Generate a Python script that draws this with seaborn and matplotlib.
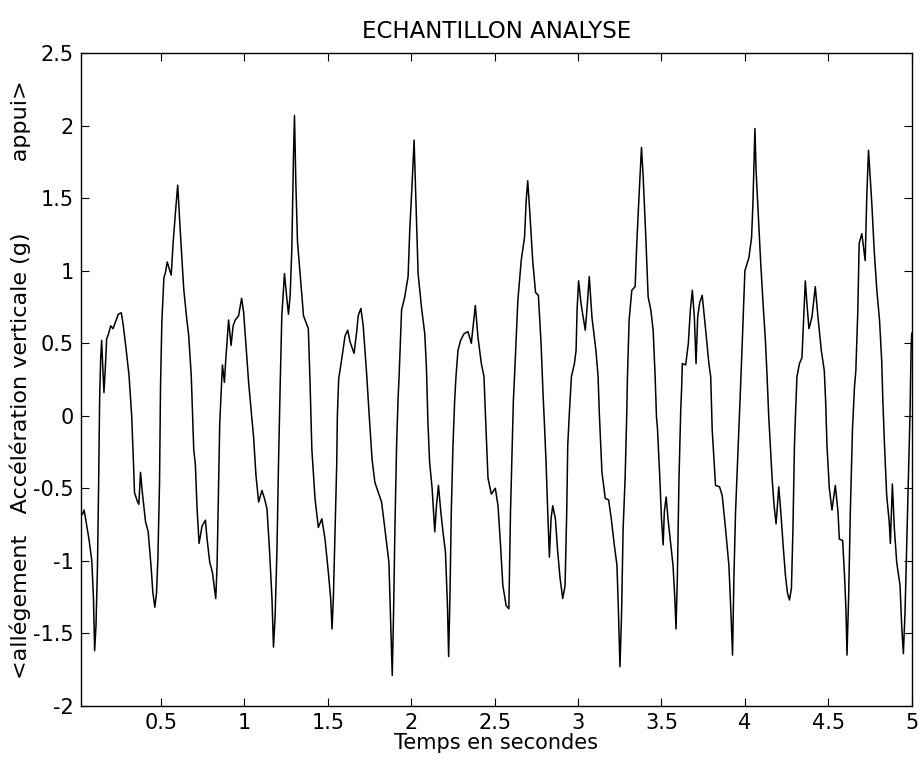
import numpy as np
import pandas as pd
import matplotlib
matplotlib.use('Agg')
import matplotlib.pyplot as plt
import seaborn as sns

# Valeurs (temps en s, acceleration en g)
temps = [
    0.029, 0.039, 0.068, 0.085, 0.095, 0.102, 0.110, 0.119, 0.126, 0.132,
    0.138, 0.144, 0.152, 0.158, 0.166, 0.174, 0.184, 0.198, 0.212, 0.228,
    0.244, 0.262, 0.274, 0.288, 0.308, 0.324, 0.334, 0.341, 0.358, 0.367,
    0.377, 0.388, 0.407, 0.423, 0.441, 0.451, 0.463, 0.473, 0.481, 0.491,
    0.497, 0.505, 0.517, 0.527, 0.537, 0.561, 0.573, 0.587, 0.600, 0.617,
    0.636, 0.652, 0.666, 0.681, 0.696, 0.706, 0.716, 0.728, 0.746, 0.766,
    0.776, 0.792, 0.808, 0.828, 0.836, 0.845, 0.852, 0.860, 0.868, 0.880,
    0.887, 0.896, 0.905, 0.920, 0.932, 0.945, 0.965, 0.983, 0.995, 1.011,
    1.025, 1.039, 1.055, 1.069, 1.085, 1.105, 1.120, 1.135, 1.150, 1.165,
    1.174, 1.184, 1.195, 1.204, 1.214, 1.224, 1.240, 1.254, 1.264, 1.274,
    1.284, 1.294, 1.300, 1.308, 1.318, 1.334, 1.354, 1.383, 1.394, 1.404,
    1.423, 1.443, 1.464, 1.483, 1.503, 1.517, 1.525, 1.533, 1.543, 1.553,
    1.557, 1.565, 1.583, 1.603, 1.619, 1.633, 1.657, 1.673, 1.682, 1.698,
    1.712, 1.733, 1.748, 1.765, 1.782, 1.822, 1.842, 1.866, 1.876, 1.886,
    1.894, 1.902, 1.912, 1.921, 1.927, 1.942, 1.961, 1.981, 1.991, 2.005,
    2.017, 2.025, 2.041, 2.061, 2.081, 2.091, 2.100, 2.110, 2.125, 2.141,
    2.151, 2.163, 2.177, 2.190, 2.205, 2.217, 2.224, 2.232, 2.240, 2.250,
    2.260, 2.268, 2.280, 2.296, 2.316, 2.340, 2.360, 2.372, 2.384, 2.400,
    2.420, 2.436, 2.444, 2.460, 2.480, 2.504, 2.520, 2.535, 2.549, 2.569,
    2.585, 2.595, 2.605, 2.612, 2.619, 2.639, 2.659, 2.679, 2.689, 2.698,
    2.710, 2.728, 2.745, 2.762, 2.778, 2.790, 2.798, 2.808, 2.818, 2.828,
    2.838, 2.848, 2.864, 2.878, 2.892, 2.908, 2.922, 2.932, 2.938, 2.948,
    2.960, 2.978, 2.988, 2.994, 3.003, 3.018, 3.043, 3.053, 3.067, 3.083,
    3.107, 3.120, 3.127, 3.143, 3.163, 3.183, 3.199, 3.217, 3.233, 3.242,
    3.251, 3.260, 3.270, 3.282, 3.292, 3.296, 3.306, 3.322, 3.342, 3.352,
    3.366, 3.380, 3.390, 3.406, 3.420, 3.436, 3.450, 3.462, 3.470, 3.476,
    3.490, 3.500, 3.510, 3.517, 3.528, 3.539, 3.556, 3.569, 3.580, 3.587,
    3.595, 3.605, 3.615, 3.621, 3.625, 3.645, 3.661, 3.673, 3.685, 3.697,
    3.707, 3.717, 3.729, 3.744, 3.765, 3.784, 3.795, 3.804, 3.824, 3.848,
    3.864, 3.884, 3.904, 3.916, 3.926, 3.934, 3.944, 3.960, 3.974, 3.984,
    4.000, 4.024, 4.040, 4.048, 4.060, 4.067, 4.079, 4.094, 4.109, 4.123,
    4.133, 4.143, 4.147, 4.163, 4.175, 4.187, 4.203, 4.215, 4.229, 4.243,
    4.255, 4.267, 4.279, 4.288, 4.297, 4.303, 4.312, 4.327, 4.342, 4.352,
    4.362, 4.372, 4.384, 4.402, 4.422, 4.438, 4.458, 4.476, 4.484, 4.492,
    4.506, 4.522, 4.542, 4.558, 4.566, 4.586, 4.598, 4.606, 4.612, 4.622,
    4.632, 4.645, 4.657, 4.665, 4.677, 4.685, 4.701, 4.721, 4.731, 4.741,
    4.751, 4.761, 4.775, 4.791, 4.807, 4.820, 4.827, 4.837, 4.850, 4.865,
    4.872, 4.884, 4.896, 4.910, 4.930, 4.940, 4.950, 4.960, 4.970, 4.980,
    4.990, 4.996, 5.000,
]
acceleration = [
    -0.68, -0.65, -0.85, -1.00, -1.26, -1.62, -1.45, -1.04, -0.46, 0.12,
    0.39, 0.52, 0.30, 0.16, 0.33, 0.53, 0.56, 0.62, 0.60, 0.65,
    0.70, 0.71, 0.62, 0.485, 0.28, 0.00, -0.30, -0.53, -0.59, -0.61,
    -0.39, -0.53, -0.73, -0.80, -1.05, -1.22, -1.32, -1.22, -0.99, -0.46,
    0.21, 0.65, 0.95, 0.99, 1.06, 0.97, 1.20, 1.41, 1.59, 1.24,
    0.876, 0.69, 0.55, 0.28, -0.23, -0.34, -0.64, -0.88, -0.76, -0.72,
    -0.85, -1.01, -1.08, -1.26, -1.03, -0.46, -0.05, 0.15, 0.35, 0.23,
    0.37, 0.51, 0.66, 0.485, 0.62, 0.66, 0.69, 0.81, 0.715, 0.46,
    0.23, 0.05, -0.15, -0.41, -0.595, -0.515, -0.57, -0.64, -0.92, -1.26,
    -1.595, -1.38, -0.92, -0.34, 0.20, 0.69, 0.98, 0.81, 0.70, 0.83,
    1.15, 1.795, 2.07, 1.61, 1.20, 0.97, 0.69, 0.60, 0.20, -0.23,
    -0.57, -0.77, -0.71, -0.85, -1.08, -1.26, -1.47, -1.26, -0.80, -0.34,
    0.00, 0.255, 0.39, 0.55, 0.59, 0.51, 0.43, 0.58, 0.69, 0.74,
    0.62, 0.28, 0.00, -0.30, -0.46, -0.595, -0.78, -1.01, -1.40, -1.79,
    -1.35, -0.78, -0.205, 0.12, 0.27, 0.73, 0.82, 0.96, 1.28, 1.60,
    1.90, 1.60, 0.98, 0.75, 0.565, 0.33, -0.05, -0.32, -0.50, -0.80,
    -0.62, -0.48, -0.66, -0.80, -0.94, -1.31, -1.66, -1.24, -0.66, -0.205,
    0.10, 0.27, 0.45, 0.52, 0.565, 0.58, 0.50, 0.63, 0.76, 0.54,
    0.36, 0.27, 0.025, -0.43, -0.54, -0.50, -0.62, -0.89, -1.17, -1.31,
    -1.33, -0.66, -0.205, 0.10, 0.27, 0.795, 1.07, 1.23, 1.485, 1.62,
    1.415, 1.07, 0.85, 0.83, 0.50, 0.15, -0.05, -0.32, -0.66, -0.975,
    -0.71, -0.62, -0.71, -0.94, -1.12, -1.26, -1.17, -0.66, -0.205, 0.025,
    0.27, 0.36, 0.45, 0.73, 0.93, 0.77, 0.59, 0.73, 0.96, 0.68,
    0.45, 0.27, 0.025, -0.39, -0.57, -0.58, -0.71, -0.89, -1.03, -1.35,
    -1.73, -1.40, -0.78, -0.43, 0.025, 0.27, 0.66, 0.865, 0.89, 1.19,
    1.53, 1.85, 1.65, 1.23, 0.82, 0.73, 0.59, 0.27, -0.01, -0.09,
    -0.43, -0.71, -0.89, -0.66, -0.56, -0.71, -0.89, -1.03, -1.26, -1.47,
    -1.12, -0.43, 0.025, 0.20, 0.36, 0.35, 0.50, 0.73, 0.865, 0.68,
    0.36, 0.68, 0.78, 0.83, 0.59, 0.36, 0.27, -0.10, -0.48, -0.49,
    -0.55, -0.78, -1.03, -1.35, -1.65, -1.12, -0.66, -0.205, 0.20, 0.50,
    1.00, 1.09, 1.23, 1.46, 1.98, 1.69, 1.415, 1.07, 0.77, 0.52,
    0.27, -0.01, -0.09, -0.43, -0.62, -0.745, -0.49, -0.66, -0.89, -1.10,
    -1.22, -1.27, -1.19, -0.78, -0.205, 0.00, 0.27, 0.36, 0.40, 0.66,
    0.93, 0.77, 0.60, 0.68, 0.89, 0.68, 0.45, 0.31, 0.10, -0.205,
    -0.50, -0.65, -0.48, -0.66, -0.85, -0.86, -1.12, -1.35, -1.65, -1.24,
    -0.66, -0.09, 0.20, 0.31, 0.73, 1.19, 1.255, 1.07, 1.53, 1.83,
    1.645, 1.46, 1.14, 0.865, 0.66, 0.38, 0.10, -0.205, -0.55, -0.73,
    -0.88, -0.47, -0.78, -1.01, -1.17, -1.45, -1.64, -1.35, -0.89, -0.43,
    0.025, 0.45, 0.57,
]

x_ticks = [0.5, 1, 1.5, 2, 2.5, 3, 3.5, 4, 4.5, 5]
x_labels = ['0.5', '1', '1.5', '2', '2.5', '3', '3.5', '4', '4.5', '5']
y_ticks = [-2, -1.5, -1, -0.5, 0, 0.5, 1, 1.5, 2, 2.5]
y_labels = ['-2', '-1.5', '-1', '-0.5', '0', '0.5', '1', '1.5', '2', '2.5']

df = pd.DataFrame({'temps': temps, 'acc': acceleration})

sns.set_style('ticks')
plt.rcParams['font.family'] = ['DejaVu Sans']
plt.rcParams['axes.unicode_minus'] = False
plt.rcParams['text.color'] = 'black'
plt.rcParams['axes.labelcolor'] = 'black'

fig = plt.figure(figsize=(9.2, 7.59), dpi=100)
ax = fig.add_axes([0.088, 0.070, 0.903, 0.860])

sns.lineplot(data=df, x='temps', y='acc', ax=ax, color='black',
             linewidth=1.1, estimator=None, sort=False)

ax.set_xlim(0.02, 5.0)
ax.set_ylim(-2, 2.5)
ax.set_xticks(x_ticks)
ax.set_xticklabels(x_labels)
ax.set_yticks(y_ticks)
ax.set_yticklabels(y_labels)
ax.tick_params(direction='in', length=6, width=0.8, labelsize=15,
               top=True, right=True, colors='black', pad=5)
for s in ax.spines.values():
    s.set_visible(True)
    s.set_linewidth(1.0)
    s.set_color('black')

ax.set_title('ECHANTILLON ANALYSE', fontsize=16.5, pad=11, color='black')
ax.set_xlabel('Temps en secondes', fontsize=15, labelpad=0, color='black')
ax.set_ylabel('<allégement   Accélération verticale (g)          appui>',
              fontsize=16, labelpad=2, color='black')

plt.savefig('out.png', dpi=100)
